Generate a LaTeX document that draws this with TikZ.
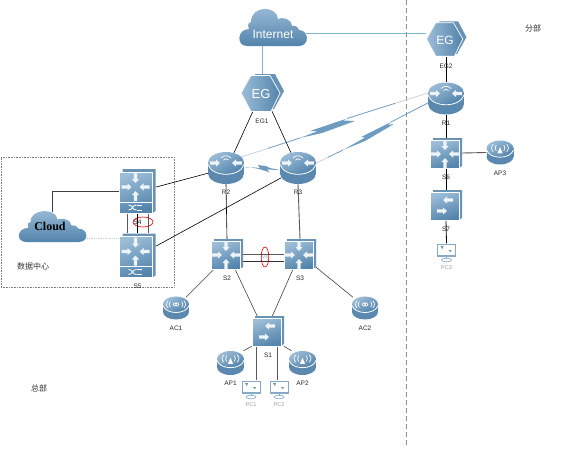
\documentclass[tikz,border=0pt]{standalone}
\usepackage{fontspec}
\setmainfont{Liberation Sans}
\newfontfamily\cjkfont{Noto Sans CJK SC}
\newfontfamily\serfont{Liberation Serif}
\usetikzlibrary{arrows.meta,positioning,backgrounds,calc,shapes.geometric}
\definecolor{cIconL}{HTML}{9CBDD8}
\definecolor{cIconD}{HTML}{5384AC}
\definecolor{cSide}{HTML}{5B88AE}
\definecolor{cBack}{HTML}{6993B6}
\definecolor{cArrow}{HTML}{EEF3F8}
\definecolor{cSky}{HTML}{7FB6D2}
\definecolor{cWan}{HTML}{6E9CC0}
\definecolor{cPale}{HTML}{C9D3DC}
% white arrow: x, y, angle
\newcommand{\iconarrow}[3]{\fill[cArrow,shift={(#1,#2)},rotate=#3] (-6,-1.7) -- (0,-1.7) -- (0,-3.6) -- (4,0) -- (0,3.6) -- (0,1.7) -- (-6,1.7) -- cycle;}
\newcommand{\fourway}{\iconarrow{-8}{0}{0}\iconarrow{8}{0}{180}\iconarrow{0}{-8}{-90}\iconarrow{0}{8}{90}}
\newcommand{\cylbody}{%
  \fill[cSide] (0,5.5) ellipse [x radius=18,y radius=10.5];
  \fill[cSide] (-18,-5.5) rectangle (18,5.5);
  \shade[left color=cIconL,right color=cIconD,shading angle=30] (0,-5.5) ellipse [x radius=18,y radius=10.5];
  \draw[white,line width=.8pt] (-18,-3.5) .. controls (-14,9.5) and (14,9.5) .. (18,-3.5);}
\newcommand{\swbody}{%
  \fill[cBack] (-13,-15) -- (16,-15) -- (16,13) -- (13,15) -- (-13,15) -- cycle;
  \shadedraw[left color=cIconL,right color=cIconD,shading angle=20,draw=white,line width=.5pt] (-16,-13) rectangle (13.5,15);}
\newcommand{\wanbolt}[3]{\draw[cPale,line width=.8pt] (#1) -- ($(#1)!.45!(#2)$);\draw[cWan,line width=.8pt] ($(#1)!.45!(#2)$) -- (#2);\fill[cWan] #3;}
\begin{document}
\begin{tikzpicture}[x=1pt,y=-1pt,>=Stealth,
   lab/.style={font=\fontsize{6.5}{7}\selectfont,inner sep=0pt,text=black!85},
   pclab/.style={font=\fontsize{5.5}{6}\selectfont,inner sep=0pt,text=black!40},
   note/.style={font=\cjkfont\fontsize{8}{9}\selectfont,inner sep=0pt,text=black!80},
   box/.style 2 args={inner sep=0pt,minimum width=#1,minimum height=#2},
   pics/cloudicon/.style={code={
     \node[box={65pt}{#1*1pt}] (-n) at (0,0) {};
     \begin{scope}[yscale=#1/36]
     \shade[top color=cIconL,bottom color=cIconD]
       (-26,18) .. controls (-37,18) and (-36,1) .. (-24,1)
       .. controls (-26,-4) and (-24,-6) .. (-22,-6)
       .. controls (-22,-23) and (4,-23) .. (5,-9)
       .. controls (9,-11) and (18,-10) .. (19,-2)
       .. controls (22,-3) and (25,-1) .. (26,2)
       .. controls (36,2) and (37,18) .. (26,18) -- cycle;
     \end{scope}}},
   pics/egicon/.style={code={
     \node[box={#1*43pt}{#1*38pt}] (-n) at (0,0) {};
     \begin{scope}[scale=#1]
     \fill[cBack] (-7,-19) -- (13,-19) -- (22,-2) -- (12,16) -- (-7,16) -- cycle;
     \shadedraw[left color=cIconL,right color=cIconD,draw=white,line width=.7pt]
       (-21,0) -- (-11,-17.5) -- (8,-17.5) -- (18,0) -- (9,18.5) -- (-11,18.5) -- cycle;
     \end{scope}}},
   pics/routericon/.style={code={
     \node[box={36pt}{32pt}] (-n) at (0,0) {};
     \cylbody
     \iconarrow{-10}{-5}{0}\iconarrow{10}{-5}{180}
     \draw[white,line width=.7pt] (-5,-10) .. controls (-2,-13) and (2,-13) .. (5,-10);
     \draw[white,line width=.7pt] (-2.5,-8) .. controls (-1,-9.5) and (1,-9.5) .. (2.5,-8);}},
   pics/acicon/.style={code={
     \node[box={26pt}{23pt}] (-n) at (0,0) {};
     \begin{scope}[scale=.72]
     \cylbody
     \draw[white,line width=.7pt] (-4,-5) .. controls (-2,-9) and (0,-7) .. (0,-5) .. controls (0,-3) and (2,-1) .. (4,-5) .. controls (2,-9) and (0,-7) .. (0,-5) .. controls (0,-3) and (-2,-1) .. (-4,-5);
     \draw[white,line width=.7pt] (-8,-9) .. controls (-10,-6) and (-10,-4) .. (-8,-1);
     \draw[white,line width=.7pt] (8,-9) .. controls (10,-6) and (10,-4) .. (8,-1);
     \draw[white,line width=.7pt] (-11,-10) .. controls (-14,-6) and (-14,-4) .. (-11,0);
     \draw[white,line width=.7pt] (11,-10) .. controls (14,-6) and (14,-4) .. (11,0);
     \end{scope}}},
   pics/apicon/.style={code={
     \node[box={27pt}{24pt}] (-n) at (0,0) {};
     \begin{scope}[scale=.75]
     \cylbody
     \fill[white] (0,-7) -- (3.5,1) -- (-3.5,1) -- cycle;
     \draw[white,line width=.7pt] (-5,-10) .. controls (-7,-7) and (-7,-5) .. (-5,-2);
     \draw[white,line width=.7pt] (5,-10) .. controls (7,-7) and (7,-5) .. (5,-2);
     \draw[white,line width=.7pt] (-9,-11) .. controls (-12,-7) and (-12,-5) .. (-9,-1);
     \draw[white,line width=.7pt] (9,-11) .. controls (12,-7) and (12,-5) .. (9,-1);
     \end{scope}}},
   pics/swicon/.style={code={
     \node[box={32pt}{30pt}] (-n) at (0,0) {};
     \swbody
     \begin{scope}[shift={(-1,1)}]\fourway\end{scope}}},
   pics/acsicon/.style={code={
     \node[box={32pt}{30pt}] (-n) at (0,0) {};
     \swbody
     \iconarrow{1}{-5}{180}\iconarrow{-3}{6}{0}}},
   pics/coreicon/.style={code={
     \node[box={37pt}{44pt}] (-n) at (0,0) {};
     \fill[cBack] (-15,-22) -- (18,-22) -- (18,20) -- (15,22) -- (-15,22) -- cycle;
     \shadedraw[left color=cIconL,right color=cIconD,shading angle=20,draw=white,line width=.5pt] (-18.5,-19) rectangle (14.5,22);
     \draw[white,line width=.6pt] (-18.5,11) -- (14.5,11);
     \begin{scope}[shift={(-2,-4)}]\fourway\end{scope}
     \draw[white,line width=.8pt] (-9,14) .. controls (-4,14) and (-6,19) .. (-1,19) (-9,19) .. controls (-4,19) and (-6,14) .. (-1,14);
     \draw[white,line width=.8pt] (-1,14) -- (4,14) (-1,19) -- (4,19);}},
   pics/pcicon/.style={code={
     \node[box={19pt}{19pt}] (-n) at (0,0) {};
     \draw[cBack!80,fill=white,line width=1pt] (-9,-9) rectangle (9,3);
     \fill[cBack!80] (-9,2) rectangle (9,4);
     \fill[cBack] (-6,-7) -- (-3,-7) -- (-4,-4) -- cycle (2,-3) -- (5,-3) -- (4,-1) -- cycle;
     \draw[cBack!80,line width=.8pt] (0,4) -- (0,6);
     \draw[cBack!80,line width=.6pt] (0,7) ellipse [x radius=5,y radius=1.8];}},
   lnk/.style={black,line width=.6pt},
   grey/.style={black!65,line width=.9pt},
   sky/.style={cSky,line width=1pt},
   vsring/.style={draw=red!85!black,line width=.6pt,ellipse,inner sep=0pt}]
  \useasboundingbox (0,0) rectangle (568,451);
  % head office
  \pic (inet) at (273,28) {cloudicon=36};
  \node[text=white,font=\fontsize{12}{13}\selectfont] (inettxt) at (273,34) {Internet};
  \pic (eg1) at (262,93) {egicon=1};
  \node[text=white,font=\fontsize{13}{14}\selectfont] (eg1txt) at (261,94) {EG};
  \pic (r2) at (226,168) {routericon};
  \pic (r3) at (298,168) {routericon};
  \pic (s2) at (227,254) {swicon};
  \pic (s3) at (300,254) {swicon};
  \pic (s1) at (268,331) {acsicon};
  \pic (ac1) at (176,308) {acicon};
  \pic (ac2) at (365,308) {acicon};
  \pic (ap1) at (230.5,363) {apicon};
  \pic (ap2) at (302.5,363) {apicon};
  \pic (pc1) at (251,390) {pcicon};
  \pic (pc2) at (279,390) {pcicon};
  % data centre
  \pic (s4) at (137.5,191) {coreicon};
  \pic (s5) at (137.5,255.5) {coreicon};
  \pic (dccloud) at (52.5,227) {cloudicon=30};
  \node[font=\serfont\bfseries\fontsize{12}{13}\selectfont] (dctxt) at (50,226) {Cloud};
  % branch
  \pic (eg2) at (446,39) {egicon=.93};
  \node[text=white,font=\fontsize{12}{13}\selectfont] (eg2txt) at (445,40) {EG};
  \pic (r1) at (446,98.5) {routericon};
  \pic (s6) at (446,153) {swicon};
  \pic (s7) at (446,205) {acsicon};
  \pic (ap3) at (500,152.5) {apicon};
  \pic (pc3) at (446.5,253) {pcicon};
  % labels
  \node[lab,below=6.5pt of eg1-n] (eg1lab) {EG1};
  \node[lab,below=6.5pt of eg2-n] (eg2lab) {EG2};
  \node[lab,below=6pt of r1-n] (r1lab) {R1};
  \node[lab,below=6pt of r2-n] (r2lab) {R2};
  \node[lab,below=6pt of r3-n] (r3lab) {R3};
  \node[lab,below=6.5pt of s2-n] (s2lab) {S2};
  \node[lab,below=6.5pt of s3-n] (s3lab) {S3};
  \node[lab,below=6.5pt of s1-n] (s1lab) {S1};
  \node[lab,below=6.5pt of s4-n] (s4lab) {S4};
  \node[lab,below=6.5pt of s5-n] (s5lab) {S5};
  \node[lab,below=6.5pt of s6-n] (s6lab) {S6};
  \node[lab,below=6.5pt of s7-n] (s7lab) {S7};
  \node[lab,below=6.5pt of ac1-n] (ac1lab) {AC1};
  \node[lab,below=6.5pt of ac2-n] (ac2lab) {AC2};
  \node[lab,below=6pt of ap1-n] (ap1lab) {AP1};
  \node[lab,below=6pt of ap2-n] (ap2lab) {AP2};
  \node[lab,below=6pt of ap3-n] (ap3lab) {AP3};
  \node[pclab,below=3pt of pc1-n] (pc1lab) {PC1};
  \node[pclab,below=3pt of pc2-n] (pc2lab) {PC2};
  \node[pclab,below=3pt of pc3-n] (pc3lab) {PC3};
  \node[note] (dcnote) at (33,266) {数据中心};
  \node[note] (hqnote) at (39,388) {总部};
  \node[note] (brnote) at (533,28) {分部};
  \node[vsring,minimum width=20pt,minimum height=10pt] (ring1) at (143,222) {};
  \node[vsring,minimum width=7pt,minimum height=20pt,font=\fontsize{4}{4}\selectfont,text=cBack] (ring2) at (265,257) {VS};
  \begin{scope}[on background layer]
    \node[draw=black!50,densely dotted,line width=.6pt,minimum width=173pt,minimum height=130pt,inner sep=0pt] (dcbox) at (87.5,222) {};
    \coordinate (top) at (406,0);
    \coordinate (bot) at (406,448);
    \draw[black!45,dash pattern=on 5pt off 3pt,line width=.6pt] (top) -- (bot);
    % wan links
    \coordinate (w1) at ([xshift=-3pt,yshift=11pt]r2-n.east);
    \coordinate (w2) at ([yshift=5.5pt]r1-n.west);
    \coordinate (w3) at ([yshift=5pt]r3-n.east);
    \coordinate (w4) at ([yshift=-4.5pt]r1-n.west);
    \coordinate (b1a) at (300,138);
    \coordinate (b1b) at (347,118.5);
    \wanbolt{w1}{b1a}{(300,138) -- (318,131) -- (310,131) -- (347,118.5) -- (343,120.5) -- (355,121) -- (322,133) -- cycle}
    \draw[cWan,line width=.8pt] (b1b) -- ($(b1b)!.6!(w2)$);
    \draw[cPale,line width=.8pt] ($(b1b)!.6!(w2)$) -- (w2);
    \coordinate (b2a) at (343,150);
    \coordinate (b2b) at (391,122);
    \wanbolt{w3}{b2a}{(343,150) -- (365,137.5) -- (361,137) -- (391,122) -- (388,125) -- (394,124) -- (365,141) -- cycle}
    \draw[cWan,line width=.8pt] (b2b) -- (w4);
    \coordinate (b3a) at (250,167);
    \draw[cPale,line width=.8pt] (r2-n.east) -- (b3a);
    \fill[cWan] (b3a) -- (260,168) -- (258,165) -- (266,166) -- (270,168) -- (280,170) -- (267,169.5) -- (270,172.5) -- (261,169.5) -- cycle;
    % wired links
    \draw[sky] (inet-n.south -| eg1-n) -- (eg1-n.north);
    \draw[sky] ([yshift=-5pt]inet-n.east) -- ([yshift=6pt]eg2-n.west);
    \draw[lnk] ([xshift=-9pt,yshift=1pt]eg1-n.south) -- ([xshift=8pt,yshift=-1pt]r2-n.north);
    \draw[lnk] ([xshift=10pt,yshift=1pt]eg1-n.south) -- ([xshift=-7pt,yshift=-1pt]r3-n.north);
    \draw[lnk] ([yshift=4pt]s4-n.east) -- ([yshift=-5pt,xshift=1pt]r2-n.west);
    \draw[lnk] ([yshift=9.5pt]s5-n.east) -- ([yshift=-10pt,xshift=1pt]r3-n.west);
    \draw[lnk] (r2-n.south) -- (s2-n.north);
    \draw[grey] (r3-n.south) -- (s3-n.north);
    \draw[grey] (s2-n.east) -- (s3-n.west);
    \draw[lnk,line width=.8pt,black!80] ([yshift=-7pt]s2-n.east) -- ([yshift=-7pt]s3-n.west);
    \draw[lnk,black!75] ([xshift=8pt]s2-n.south) -- ([xshift=-10pt,yshift=-2pt]s1-n.north);
    \draw[lnk,black!75] ([xshift=-7pt]s3-n.south) -- ([xshift=4pt,yshift=-1pt]s1-n.north);
    \draw[lnk,black!75] ([xshift=-13pt]s2-n.south) -- ([xshift=10pt,yshift=-1pt]ac1-n.north);
    \draw[lnk,black!75] ([xshift=16pt,yshift=2pt]s3-n.south) -- ([xshift=-12pt,yshift=-1pt]ac2-n.north);
    \draw[lnk,black!75] ([xshift=-16pt]s1-n.south) -- ([xshift=13pt]ap1-n.north);
    \draw[lnk,black!75] ([xshift=16pt]s1-n.south) -- ([xshift=-11pt]ap2-n.north);
    \draw[grey] ([xshift=-12pt]s1-n.south) -- ([xshift=5pt]pc1-n.north);
    \draw[grey] ([xshift=9pt]s1-n.south) -- ([xshift=-2pt]pc2-n.north);
    \draw[grey] ([xshift=-10.5pt]s4-n.south) -- ([xshift=-10.5pt]s5-n.north);
    \draw[lnk,line width=.8pt] (s4-n.south) -- (s5-n.north);
    \draw[grey] ([xshift=10.5pt]s4-n.south) -- ([xshift=10.5pt]s5-n.north);
    \draw[grey,black!75] (dccloud-n.north) |- (s4-n.west);
    \draw[black!20,densely dotted,line width=.8pt] ([yshift=-11pt]dccloud-n.east) -- ([yshift=17.5pt]s5-n.west);
    \draw[lnk,line width=.8pt] (eg2-n.south) -- (r1-n.north);
    \draw[lnk,line width=.8pt] (r1-n.south) -- (s6-n.north);
    \draw[lnk,line width=.8pt] (s6-n.south) -- (s7-n.north);
    \draw[lnk,line width=.8pt] (s7-n.south) -- (pc3-n.north);
    \draw[grey] (s6-n.east) -- (ap3-n.west);
  \end{scope}
\end{tikzpicture}
\end{document}
